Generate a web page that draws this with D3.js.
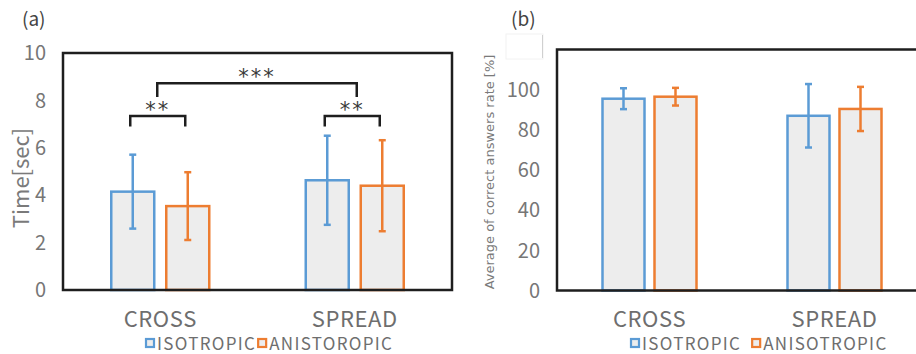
<!DOCTYPE html>
<html>
<head>
<meta charset="utf-8">
<script src="https://cdn.jsdelivr.net/npm/d3@7"></script>
<style>
    body { margin: 0; background: #fff; }
    svg { display: block; }
    text { font-family: "Noto Sans CJK JP", "Noto Sans", sans-serif; }
</style>
</head>
<body>
<script>
// Data
var categories = ["CROSS", "SPREAD"];
var seriesA = ["ISOTROPIC", "ANISTOROPIC"];
var seriesB = ["ISOTROPIC", "ANISOTROPIC"];
var colors = ["#5b9bd5", "#ed7d31"];

// (a) time [sec], mean and sd per category
var timeIso = [4.15, 4.63];
var timeIsoSd = [1.56, 1.88];
var timeAniso = [3.54, 4.40];
var timeAnisoSd = [1.43, 1.92];
var timeTicks = [0, 2, 4, 6, 8, 10];

// (b) correct answer rate [%]
var rateIso = [95.5, 87.0];
var rateIsoSd = [5.2, 15.8];
var rateAniso = [96.5, 90.4];
var rateAnisoSd = [4.4, 11.0];
var rateTicks = [0, 20, 40, 60, 80, 100];

// significance brackets for (a): [category, series] ends, level, leg end
var brackets = [
    {x1: [0, 0], x2: [0, 1], y: 7.34, leg: 6.9, label: "**"},
    {x1: [1, 0], x2: [1, 1], y: 7.34, leg: 6.9, label: "**"},
    {x1: [0, null], x2: [1, null], y: 8.72, leg: 8.14, label: "***"}
];

var svg = d3.select("body").append("svg")
    .attr("width", 916)
    .attr("height", 354);

function panel(opt) {
    var g = svg.append("g");

    var x = d3.scaleBand()
        .domain(categories)
        .range([opt.left, opt.right]);
    var y = d3.scaleLinear()
        .domain(opt.domain)
        .range([opt.bottom, opt.top]);
    var barW = opt.barW, gap = opt.gap;

    function barX(ci, si) {
        var c = x(categories[ci]) + x.bandwidth() / 2;
        return si === 0 ? c - gap / 2 - barW : c + gap / 2;
    }

    // bars
    var rows = [];
    categories.forEach(function(c, ci) {
        rows.push({ci: ci, si: 0, v: opt.iso[ci], sd: opt.isoSd[ci]});
        rows.push({ci: ci, si: 1, v: opt.aniso[ci], sd: opt.anisoSd[ci]});
    });

    g.selectAll("rect.bar")
        .data(rows)
        .enter().append("rect")
        .attr("class", "bar")
        .attr("x", function(d) { return barX(d.ci, d.si); })
        .attr("y", function(d) { return y(d.v); })
        .attr("width", barW)
        .attr("height", function(d) { return y(0) - y(d.v); })
        .attr("fill", "#ededed")
        .attr("stroke", function(d) { return colors[d.si]; })
        .attr("stroke-width", 2.5);

    // error bars
    var eb = g.selectAll("g.err")
        .data(rows)
        .enter().append("g")
        .attr("stroke", function(d) { return colors[d.si]; })
        .attr("stroke-width", 2.5);
    eb.append("line")
        .attr("x1", function(d) { return barX(d.ci, d.si) + barW / 2; })
        .attr("x2", function(d) { return barX(d.ci, d.si) + barW / 2; })
        .attr("y1", function(d) { return y(d.v + d.sd); })
        .attr("y2", function(d) { return y(d.v - d.sd); });
    [1, -1].forEach(function(s) {
        eb.append("line")
            .attr("x1", function(d) { return barX(d.ci, d.si) + barW / 2 - 3.5; })
            .attr("x2", function(d) { return barX(d.ci, d.si) + barW / 2 + 3.5; })
            .attr("y1", function(d) { return y(d.v + s * d.sd); })
            .attr("y2", function(d) { return y(d.v + s * d.sd); });
    });

    // frame
    g.append("rect")
        .attr("x", opt.left)
        .attr("y", y(opt.domain[1]))
        .attr("width", opt.right - opt.left)
        .attr("height", y(0) - y(opt.domain[1]))
        .attr("fill", "none")
        .attr("stroke", "#1e1e1e")
        .attr("stroke-width", 2.5);

    // y ticks
    g.selectAll("text.tick")
        .data(opt.ticks)
        .enter().append("text")
        .attr("x", opt.tickX)
        .attr("y", function(d) { return y(d); })
        .attr("dy", "0.36em")
        .attr("text-anchor", "end")
        .attr("fill", "#767676")
        .style("font-size", "20px")
        .text(function(d) { return d; });

    // x labels
    g.selectAll("text.cat")
        .data(categories)
        .enter().append("text")
        .attr("x", function(d) { return x(d) + x.bandwidth() / 2; })
        .attr("y", 327)
        .attr("text-anchor", "middle")
        .attr("fill", "#6e6e6e")
        .style("font-size", "22px")
        .style("letter-spacing", "0.6px")
        .text(function(d) { return d; });

    // y title
    g.append("text")
        .attr("transform", "translate(" + opt.titleX + "," +
            opt.titleY + ") rotate(-90)")
        .attr("text-anchor", "middle")
        .attr("fill", "#7a7a7a")
        .style("font-family", opt.titleFont)
        .style("font-size", opt.titleSize)
        .text(opt.title);

    // legend
    var lx = opt.legendX;
    opt.series.forEach(function(s, i) {
        g.append("rect")
            .attr("x", lx)
            .attr("y", 339)
            .attr("width", 8)
            .attr("height", 8)
            .attr("fill", "#ededed")
            .attr("stroke", colors[i])
            .attr("stroke-width", 2.2);
        var t = g.append("text")
            .attr("x", lx + 11)
            .attr("y", 350)
            .attr("fill", "#6e6e6e")
            .style("font-size", "17px")
            .style("letter-spacing", "1.3px")
            .text(s);
        lx += 11 + t.node().getComputedTextLength() + opt.legendGap;
    });

    // panel label
    g.append("text")
        .attr("x", opt.labelX)
        .attr("y", 26)
        .attr("fill", "#444")
        .style("font-size", "19px")
        .text(opt.label);

    return {g: g, x: x, y: y, barX: barX};
}

var a = panel({
    left: 63, right: 452, top: 53, bottom: 290,
    domain: [0, 10], ticks: timeTicks, tickX: 46,
    barW: 43, gap: 12,
    iso: timeIso, isoSd: timeIsoSd, aniso: timeAniso, anisoSd: timeAnisoSd,
    title: "Time[sec]", titleX: 29, titleY: 178, titleSize: "22px",
    titleFont: "'Noto Sans CJK JP', sans-serif",
    series: seriesA, legendX: 146, legendGap: 2,
    label: "(a)", labelX: 22
});

var b = panel({
    left: 557, right: 927, top: 49.5, bottom: 290.5,
    domain: [0, 120], ticks: rateTicks, tickX: 540,
    barW: 42, gap: 10,
    iso: rateIso, isoSd: rateIsoSd, aniso: rateAniso, anisoSd: rateAnisoSd,
    title: "Average of correct answers rate [%]", titleX: 494, titleY: 172,
    titleSize: "13px", titleFont: "'DejaVu Sans', sans-serif",
    series: seriesB, legendX: 631, legendGap: 11,
    label: "(b)", labelX: 511
});

// covered "120" label in (b)
b.g.append("rect")
    .attr("x", 506).attr("y", 34).attr("width", 37).attr("height", 25)
    .attr("fill", "#fff")
    .attr("stroke", "#f2f2f2").attr("stroke-width", 1);
b.g.append("line")
    .attr("x1", 542.5).attr("x2", 542.5).attr("y1", 35).attr("y2", 58)
    .attr("stroke", "#d0d0d0").attr("stroke-width", 1);

// brackets on (a)
function bx(p) {
    if (p[1] === null) {
        return a.x(categories[p[0]]) + a.x.bandwidth() / 2 - 3;
    }
    return a.barX(p[0], p[1]) + 43 / 2 - 2.5;
}
brackets.forEach(function(d) {
    var x1 = bx(d.x1), x2 = bx(d.x2);
    if (d.x1[1] === null) { x2 = bx(d.x2) + 5; }
    a.g.append("path")
        .attr("d", "M" + x1 + "," + a.y(d.leg) + "V" + a.y(d.y) +
            "H" + x2 + "V" + a.y(d.leg))
        .attr("fill", "none")
        .attr("stroke", "#1e1e1e")
        .attr("stroke-width", 2.5);
    a.g.append("text")
        .attr("x", (x1 + x2) / 2)
        .attr("y", a.y(d.y) + 1)
        .attr("text-anchor", "middle")
        .attr("fill", "#3a3a3a")
        .style("font-family", "'DejaVu Sans', sans-serif")
        .style("font-size", "21px")
        .style("letter-spacing", "2px")
        .text(d.label);
});
</script>
</body>
</html>
